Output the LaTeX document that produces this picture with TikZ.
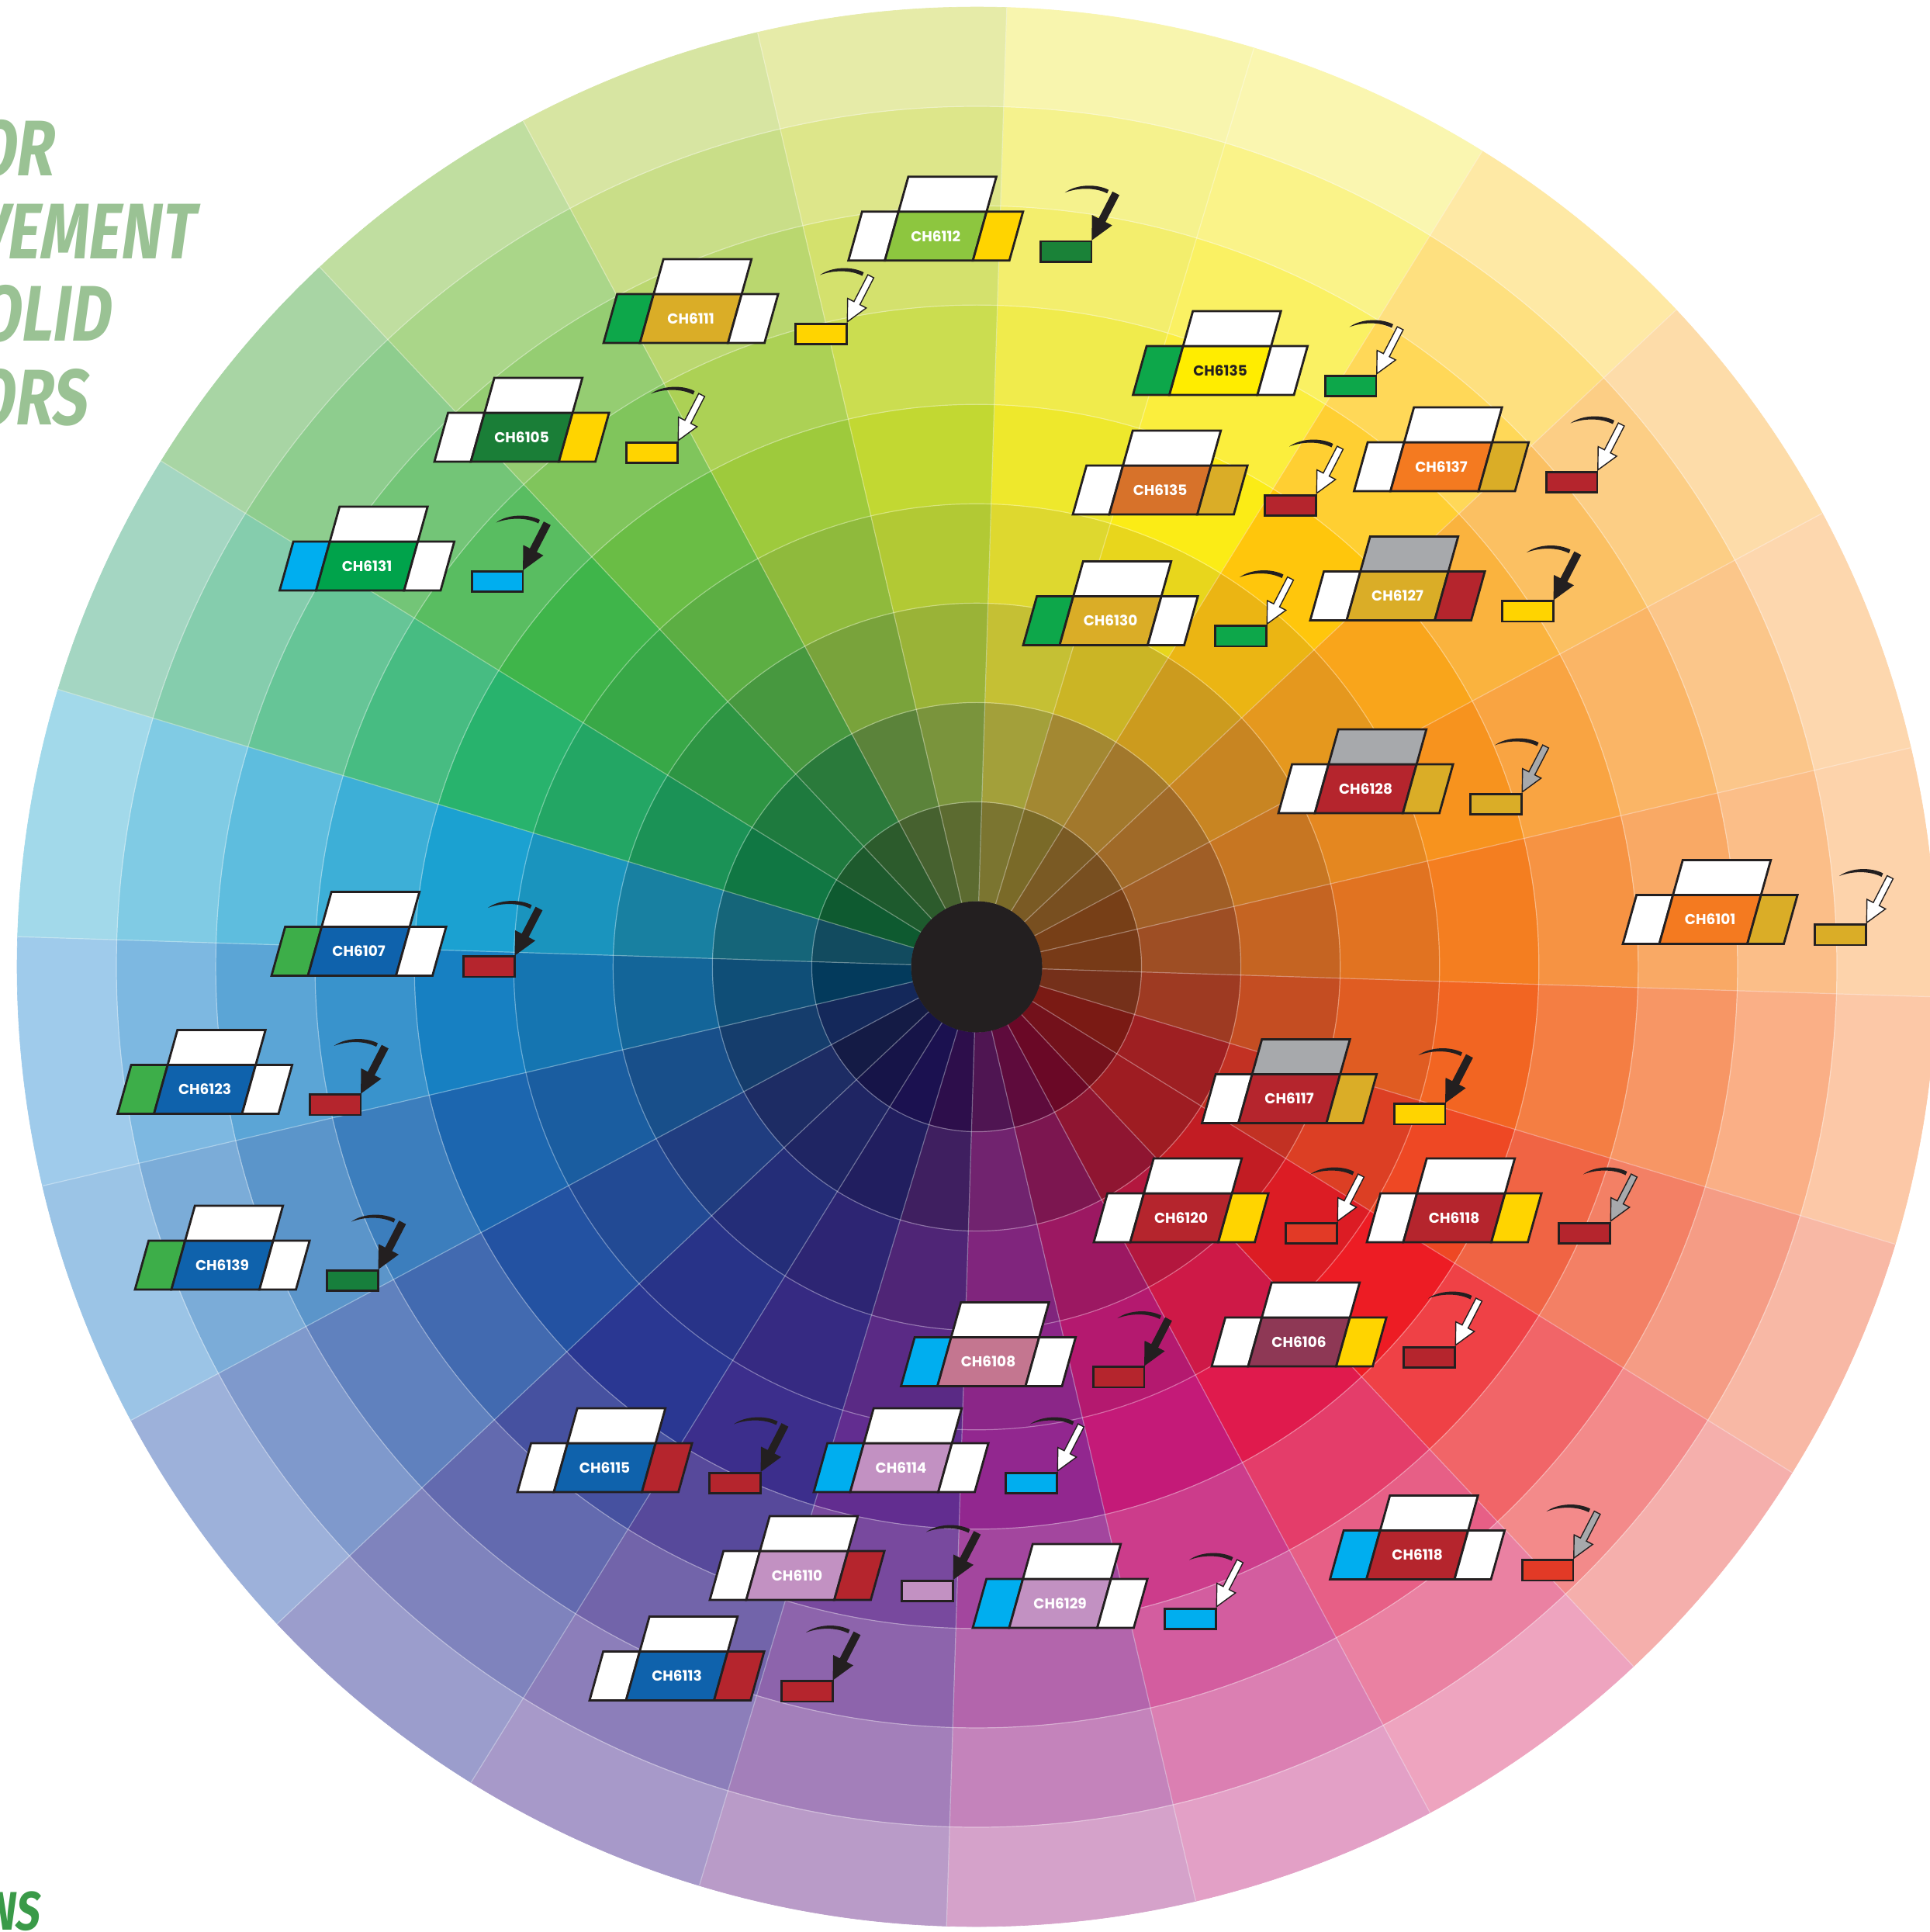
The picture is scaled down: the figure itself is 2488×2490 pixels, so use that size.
\documentclass[tikz,border=0pt]{standalone}
\usepackage{fontspec}
\newfontfamily\labfont{Poppins}
\newfontfamily\headfont[FakeStretch=0.78,FakeSlant=0.14]{Fira Sans}
\usetikzlibrary{calc}
\newcommand\defsec[5]{\definecolor{s#1a}{HTML}{#2}\definecolor{s#1b}{HTML}{#3}\definecolor{s#1c}{HTML}{#4}\definecolor{s#1d}{HTML}{#5}}
\defsec{0}{7B7530}{A3A03A}{EEE82C}{F8F5AE}
\defsec{1}{7A6A28}{A38832}{FBEC16}{FAF6B0}
\defsec{2}{7A5A24}{A2782C}{FFC60C}{FEE9A5}
\defsec{3}{784F20}{A06A28}{F9A51B}{FDDCA9}
\defsec{4}{773F17}{A05E26}{F7931E}{FDD7AE}
\defsec{5}{773A17}{9E4E24}{F47E20}{FDD3AB}
\defsec{6}{75301A}{9E3A22}{F26522}{FCC8A7}
\defsec{7}{7A1A14}{9E1F22}{EE4824}{F8B8A5}
\defsec{8}{73111B}{9E1C22}{ED1C24}{F5AFAC}
\defsec{9}{6A0826}{8F1531}{E01A4D}{EEA4BF}
\defsec{10}{5E0B3C}{7C1650}{C41A78}{E3A0C6}
\defsec{11}{4F1552}{71236F}{92278F}{D5A2CA}
\defsec{12}{2D0E4B}{3F1F60}{622D90}{B99BC8}
\defsec{13}{1B1150}{211E5F}{3C2E8C}{A799C9}
\defsec{14}{161448}{1F2563}{2A3792}{9B9DCC}
\defsec{15}{141B45}{1D2C64}{2352A2}{9DB1DA}
\defsec{16}{14285A}{153D6C}{1C66AF}{9BC4E6}
\defsec{17}{033A5C}{0F4E77}{1780C2}{9FCBEB}
\defsec{18}{124B5F}{156579}{1BA1D1}{A2D9EA}
\defsec{19}{0E5A30}{107743}{28B36D}{A4D6C2}
\defsec{20}{1D5A2D}{1E7A3E}{3FB54A}{A8D5A4}
\defsec{21}{2C5B2C}{2A7A3B}{6ABD45}{C0DEA0}
\defsec{22}{46612F}{5B833A}{9ECA3C}{D7E5A2}
\defsec{23}{5C6B30}{7A943C}{C2D832}{E6EBA8}
\definecolor{ink}{HTML}{231F20}
\definecolor{headgreen}{HTML}{9AC294}
\definecolor{nsgreen}{HTML}{3A9A48}
\definecolor{cgold}{HTML}{DAAD27}
\definecolor{cyel}{HTML}{FFD400}
\definecolor{cred}{HTML}{B5252D}
\definecolor{ccyan}{HTML}{00AEEF}
\definecolor{cgrn}{HTML}{0DA74A}
\definecolor{cgray}{HTML}{A7A9AC}
\definecolor{cblue}{HTML}{0F62AC}
\definecolor{clil}{HTML}{C291C2}
\definecolor{corg}{HTML}{F47A20}
\definecolor{cyg}{HTML}{8DC63F}
\definecolor{cdkg}{HTML}{1A8238}
\definecolor{cfor}{HTML}{1A7E37}
\definecolor{cgrnb}{HTML}{00A34B}
\definecolor{cyelb}{HTML}{FFED00}
\definecolor{cbrn}{HTML}{D7722A}
\definecolor{cgrnc}{HTML}{3DAE49}
\definecolor{cdkgb}{HTML}{177F3C}
\definecolor{credb}{HTML}{E23A26}
\definecolor{cwine}{HTML}{8E3855}
\definecolor{cpink}{HTML}{C47690}
\tikzset{
 cell/.style={draw=ink,line width=2.8,line join=miter},
 lab/.style={font=\labfont\bfseries\fontsize{18.5}{21}\selectfont,inner sep=0},
 swatch/.style={draw=ink,line width=2.6,minimum width=65.6,minimum height=26.4,inner sep=0,outer sep=0},
 arrowsty/.style={draw=ink,line width=1.4,line join=miter},
 sepline/.style={draw=white,line width=1.2,opacity=0.35},
 head/.style={font=\headfont\bfseries\fontsize{101.6}{110}\selectfont,text=headgreen,inner sep=0},
 headb/.style={font=\headfont\bfseries\fontsize{70}{76}\selectfont,text=nsgreen,inner sep=0},
}
\newcounter{gc}
\newcommand\grp[9]{%
 \stepcounter{gc}%
 \begin{scope}[shift={(#1)}]
  \filldraw[cell,fill=#2] (-47,0) -- (0,0) -- (17.64,-63) -- (-29.36,-63) -- cycle;
  \filldraw[cell,fill=#3] (0,0) -- (113.5,0) -- (131.14,-63) -- (17.64,-63) -- cycle;
  \filldraw[cell,fill=#4] (113.5,0) -- (160.5,0) -- (178.14,-63) -- (131.14,-63) -- cycle;
  \filldraw[cell,fill=#5] (17.64,-63) -- (131.14,-63) -- (143.74,-108) -- (30.24,-108) -- cycle;
  \node[lab,text=#7] (t\thegc) at (65.57,-31.5) {#6};
  \node[swatch,fill=#8] (s\thegc) at (233.5,-11.6) {};
  \fill[ink] (232,-87.5) .. controls (247,-98.5) and (273,-99) .. (288.5,-91) -- (286.5,-86.5) .. controls (271,-94.5) and (249,-94) .. (232,-87.5) -- cycle;
  \begin{scope}[shift={(267.3,-27.3)},rotate=62.7]
   \filldraw[arrowsty,fill=#9] (0,0) -- (27,13.5) -- (27,4.3) -- (66,4.3) -- (66,-4.3) -- (27,-4.3) -- (27,-13.5) -- cycle;
  \end{scope}
 \end{scope}}
\begin{document}
\begin{tikzpicture}[x=1pt,y=-1pt]
\useasboundingbox (0,0) rectangle (2488,2490);
\fill[white] (0,0) rectangle (2488,2490);
% colour wheel
\begin{scope}[shift={(1259,1246)}]
 \foreach \k in {0,...,23}{
  \pgfmathsetmacro\aa{15*\k-88.2}
  \pgfmathsetmacro\ab{15*\k-73.2}
  \foreach \j/\p/\q/\m in {1/a/a/100,2/b/b/100,3/c/b/45,4/c/b/78,5/c/c/100,6/d/c/25,7/d/c/50,8/d/c/75,9/d/d/100}{
   \pgfmathsetmacro\ri{84.5+128.06*(\j-1)}
   \pgfmathsetmacro\ro{84.5+128.06*\j}
   \path[fill=s\k\p!\m!s\k\q,draw=s\k\p!\m!s\k\q,line width=0.6]
    (\aa:\ri) arc[start angle=\aa,end angle=\ab,radius=\ri] -- (\ab:\ro)
    arc[start angle=\ab,end angle=\aa,radius=\ro] -- cycle;
  }
 }
 \foreach \k in {0,...,23}{
  \pgfmathsetmacro\aa{15*\k-88.2}
  \draw[sepline] (\aa:84.5) -- (\aa:1237);
 }
 \foreach \j in {1,...,8}{
  \draw[sepline] (0,0) circle[radius={84.5+128.06*\j}];
 }
 \fill[ink] (0,0) circle[radius=84.5];
\end{scope}
% headings
\node[head,anchor=base east] (h1) at (68,226) {OR};
\node[head,anchor=base east] (h2) at (249,333) {VEMENT};
\node[head,anchor=base east] (h3) at (141,439) {OLID};
\node[head,anchor=base east] (h4) at (111,547) {ORS};
\node[headb,anchor=base east] (h5) at (50,2487) {NS};
% label groups
\grp{1140.7,335.7}{white}{cyg}{cyel}{white}{CH6112}{white}{cdkg}{ink}
\grp{825,442}{cgrn}{cgold}{white}{white}{CH6111}{white}{cyel}{white}
\grp{607,595}{white}{cfor}{cyel}{white}{CH6105}{white}{cyel}{white}
\grp{407.5,761}{ccyan}{cgrnb}{white}{white}{CH6131}{white}{ccyan}{ink}
\grp{1507.5,509}{cgrn}{cyelb}{white}{white}{CH6135}{ink}{cgrn}{white}
\grp{1430,663}{white}{cbrn}{cgold}{white}{CH6135}{white}{cred}{white}
\grp{1792.5,633}{white}{corg}{cgold}{white}{CH6137}{white}{cred}{white}
\grp{1366,831.5}{cgrn}{cgold}{white}{white}{CH6130}{white}{cgrn}{white}
\grp{1736,799.5}{white}{cgold}{cred}{cgray}{CH6127}{white}{cyel}{ink}
\grp{1695,1048}{white}{cred}{cgold}{cgray}{CH6128}{white}{cgold}{cgray}
\grp{2139,1216.5}{white}{corg}{cgold}{white}{CH6101}{white}{cgold}{white}
\grp{397,1257.5}{cgrnc}{cblue}{white}{white}{CH6107}{white}{cred}{ink}
\grp{198.5,1435.5}{cgrnc}{cblue}{white}{white}{CH6123}{white}{cred}{ink}
\grp{221,1662}{cgrnc}{cblue}{white}{white}{CH6139}{white}{cdkgb}{ink}
\grp{1596.5,1447.5}{white}{cred}{cgold}{cgray}{CH6117}{white}{cyel}{ink}
\grp{1457,1601}{white}{cred}{cyel}{white}{CH6120}{white}{credb}{white}
\grp{1809,1601}{white}{cred}{cyel}{white}{CH6118}{white}{cred}{cgray}
\grp{1609,1761}{white}{cwine}{cyel}{white}{CH6106}{white}{cred}{white}
\grp{1208.5,1786.5}{ccyan}{cpink}{white}{white}{CH6108}{white}{cred}{ink}
\grp{714,1923}{white}{cblue}{cred}{white}{CH6115}{white}{cred}{ink}
\grp{1096,1923}{ccyan}{clil}{white}{white}{CH6114}{white}{ccyan}{white}
\grp{1761.5,2035.5}{ccyan}{cred}{white}{white}{CH6118}{white}{credb}{cgray}
\grp{962,2062}{white}{clil}{cred}{white}{CH6110}{white}{clil}{ink}
\grp{1301,2098}{ccyan}{clil}{white}{white}{CH6129}{white}{ccyan}{white}
\grp{807,2191.5}{white}{cblue}{cred}{white}{CH6113}{white}{cred}{ink}
\end{tikzpicture}
\end{document}
